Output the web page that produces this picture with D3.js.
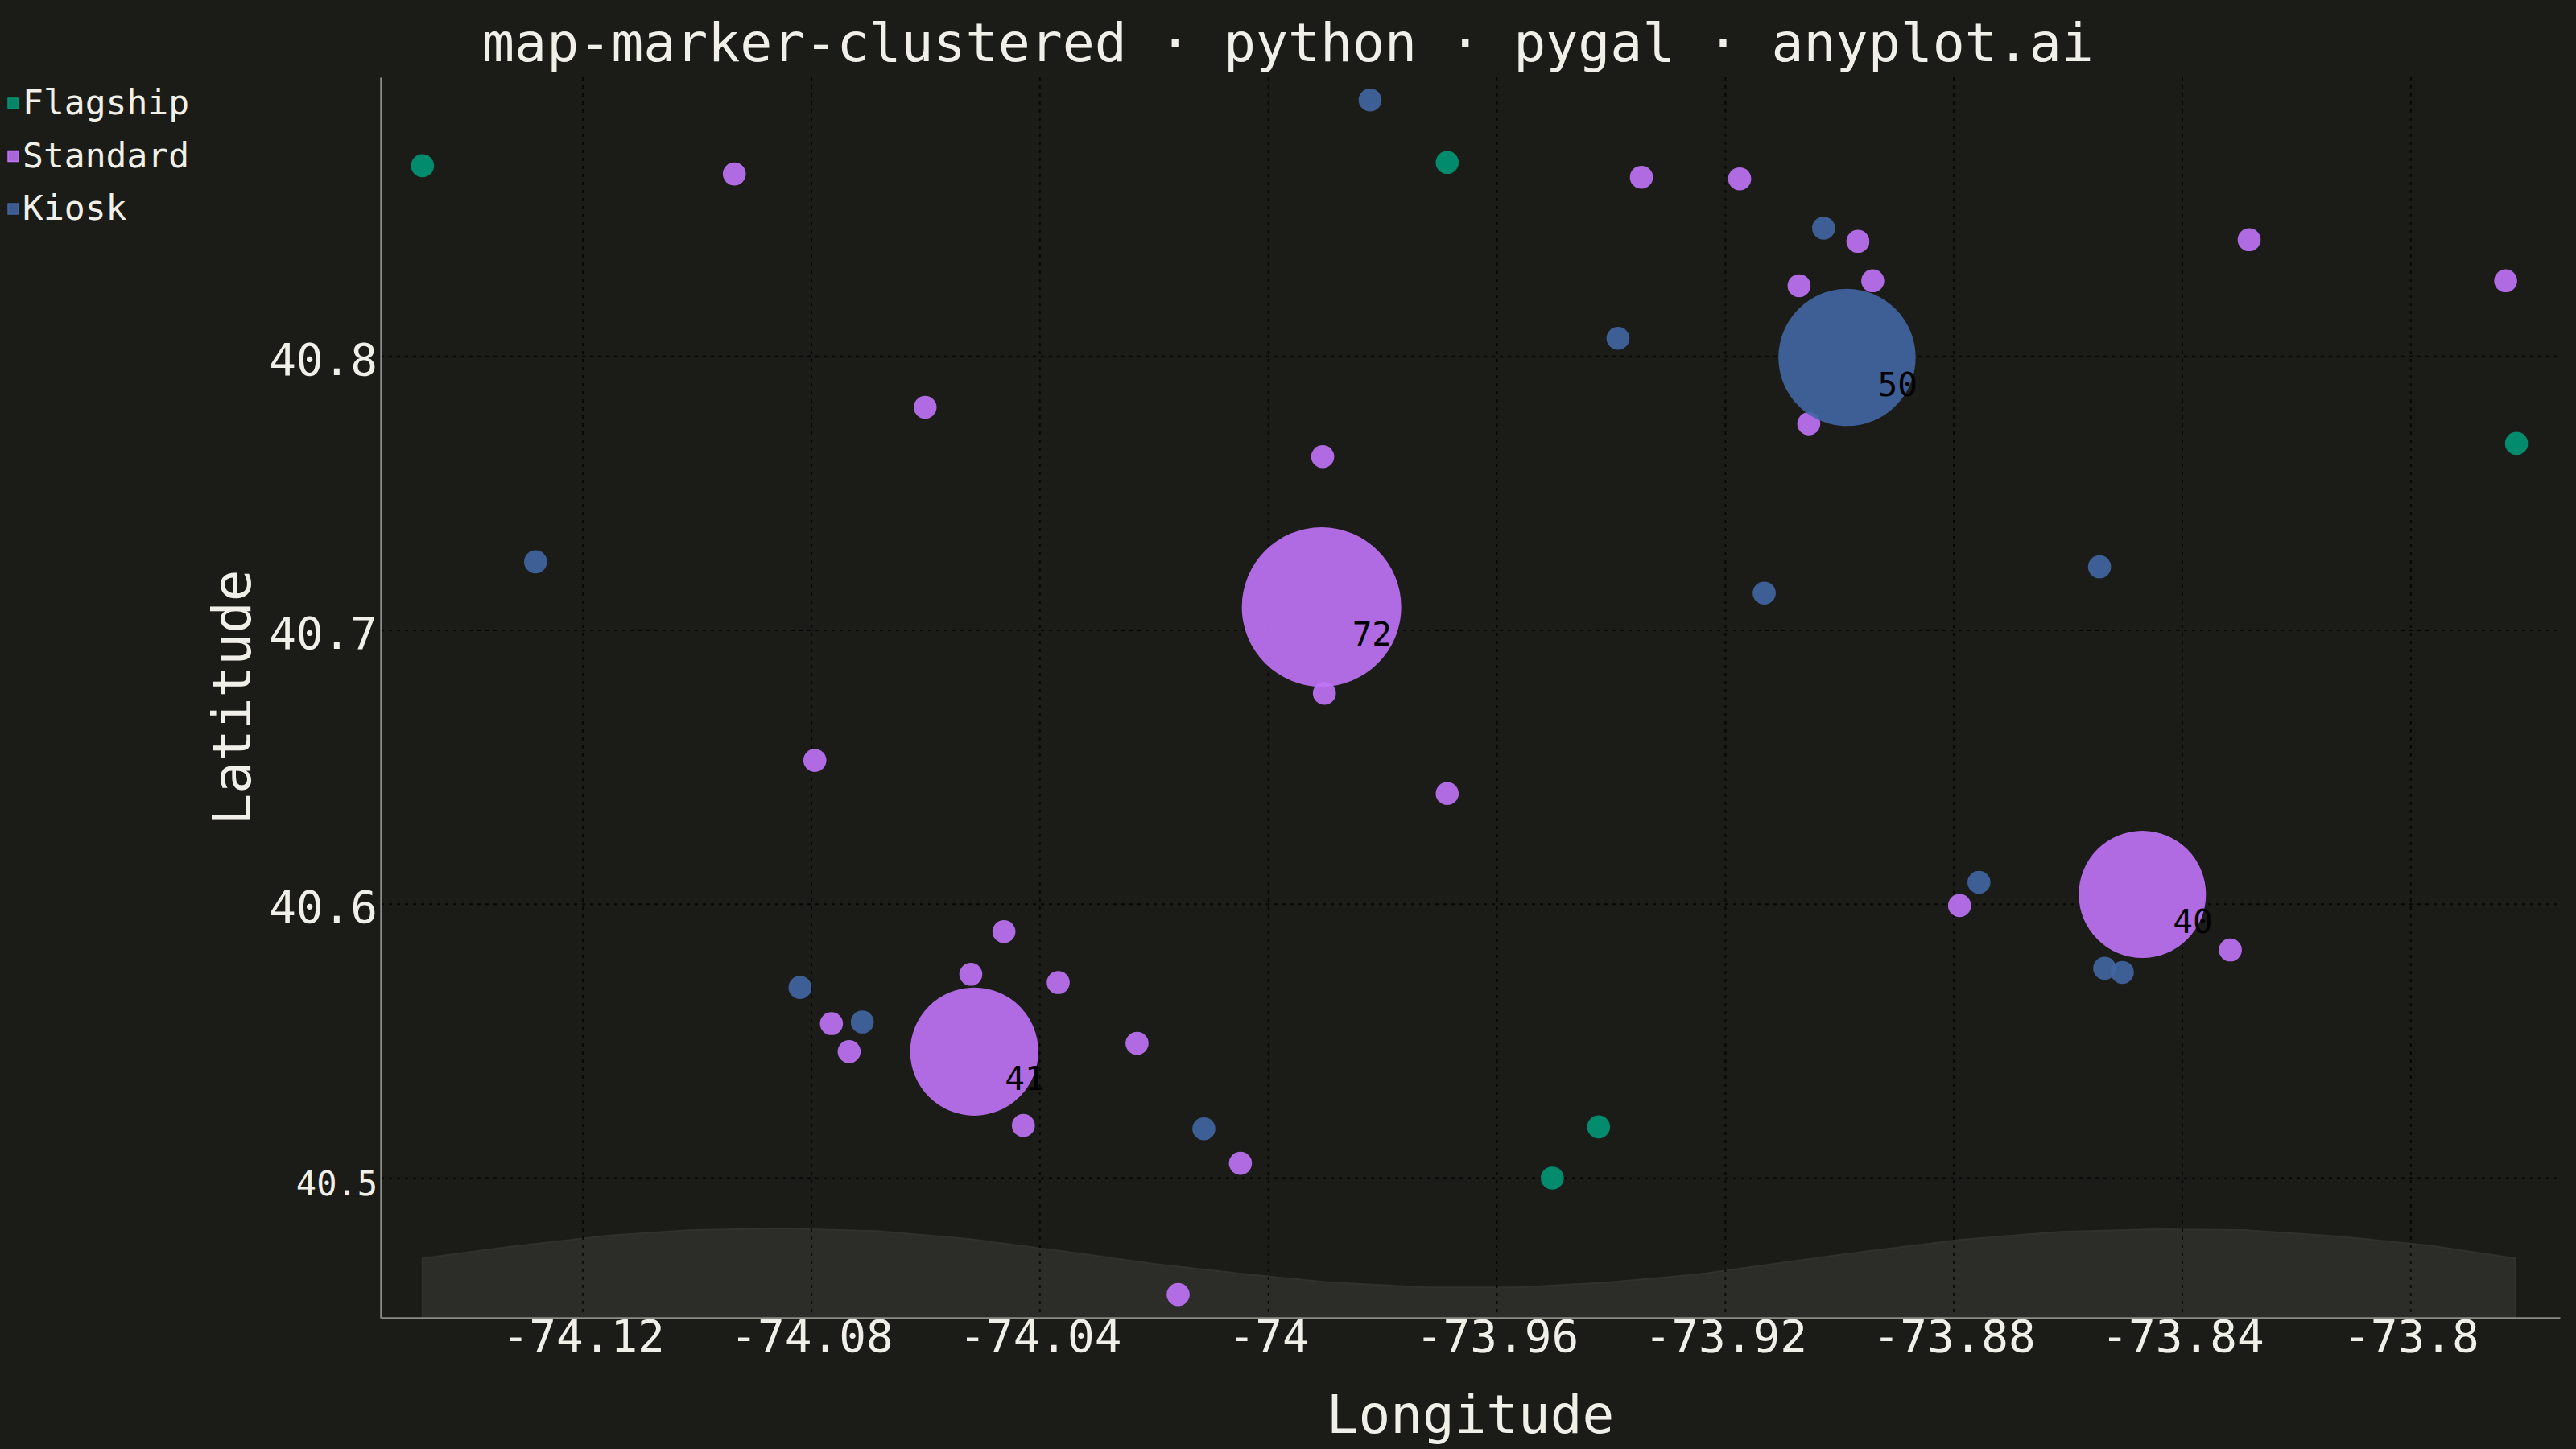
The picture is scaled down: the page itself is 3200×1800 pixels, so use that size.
<!DOCTYPE html>
<html>
<head>
<meta charset="utf-8">
<title>map-marker-clustered</title>
<script src="https://d3js.org/d3.v7.min.js"></script>
<style>
  html, body { margin: 0; padding: 0; background: #1b1b17; }
  svg { display: block; }
  text { font-family: "DejaVu Sans Mono", monospace; fill: #f0efe8; }
</style>
</head>
<body>
<div id="chart"></div>
<script>
// ---- data (longitude, latitude) ----
const seriesNames = ["Flagship", "Standard", "Kiosk"];

const flagship = [
  [-74.1481, 40.8696], [-73.9687, 40.8708], [-73.9422, 40.5187],
  [-73.9503, 40.5000], [-73.7815, 40.7682]
];

const standard = [
  [-74.0935, 40.8666], [-74.0601, 40.7814], [-73.9347, 40.8654],
  [-73.9175, 40.8648], [-73.8968, 40.8420], [-73.9071, 40.8258],
  [-73.8942, 40.8276], [-73.9054, 40.7754], [-73.9905, 40.7634],
  [-73.9902, 40.6770], [-73.9687, 40.6404], [-74.0794, 40.6525],
  [-74.0463, 40.5900], [-74.0521, 40.5744], [-74.0368, 40.5714],
  [-74.0765, 40.5564], [-74.0734, 40.5462], [-74.0230, 40.5492],
  [-74.0429, 40.5192], [-74.0049, 40.5054], [-74.0158, 40.4575],
  [-73.8790, 40.5995], [-73.8316, 40.5833], [-73.8283, 40.8426],
  [-73.7834, 40.8276]
];

const kiosk = [
  [-73.9822, 40.8936], [-74.1283, 40.7250], [-73.9388, 40.8066],
  [-73.9028, 40.8468], [-73.9132, 40.7136], [-73.8545, 40.7232],
  [-73.8756, 40.6080], [-73.8536, 40.5766], [-73.8505, 40.5751],
  [-74.0820, 40.5696], [-74.0711, 40.5570], [-74.0113, 40.5180]
];

// clustered markers: series, lon, lat, count
const clusterSeries = ["Standard", "Standard", "Standard", "Kiosk"];
const clusterLon    = [-73.9907, -74.0515, -73.8470, -73.8987];
const clusterLat    = [40.7085, 40.5462, 40.6036, 40.7996];
const clusterCount  = [72, 41, 40, 50];

// land silhouette along the bottom edge
const coastline = [
  [-74.1481, 40.4707], [-74.1333, 40.4748], [-74.1161, 40.4789],
  [-74.1010, 40.4810], [-74.0848, 40.4816], [-74.0686, 40.4807],
  [-74.0525, 40.4778], [-74.0363, 40.4734], [-74.0201, 40.4687],
  [-74.0039, 40.4649], [-73.9893, 40.4619], [-73.9722, 40.4601],
  [-73.9562, 40.4601], [-73.9404, 40.4619], [-73.9247, 40.4649],
  [-73.9074, 40.4699], [-73.8959, 40.4731], [-73.8786, 40.4775],
  [-73.8614, 40.4804], [-73.8448, 40.4813], [-73.8290, 40.4810],
  [-73.8125, 40.4787], [-73.7968, 40.4754], [-73.7817, 40.4707]
];

const xTicks = [-74.12, -74.08, -74.04, -74, -73.96, -73.92, -73.88, -73.84, -73.8];
const yMajorTicks = [40.6, 40.7, 40.8];
const yMinorTicks = [40.5];

// ---- layout ----
const W = 3200, H = 1800;
const colors = { Flagship: "#009875", Standard: "#c174fa", Kiosk: "#4366a4" };

const x = d3.scaleLinear().domain([-74.1554, -73.7739]).range([473, 3180]);
const y = d3.scaleLinear().domain([40.449, 40.9019]).range([1637, 96]);
const r = d3.scaleLinear().domain([40, 72]).range([79, 99]);

const svg = d3.select("#chart").append("svg")
  .attr("width", W).attr("height", H);

svg.append("rect").attr("width", W).attr("height", H).attr("fill", "#1b1b17");

// coastline band
const baseLat = y.domain()[0];
svg.append("path")
  .datum(coastline)
  .attr("fill", "#2c2c28")
  .attr("stroke", "#31312d")
  .attr("stroke-width", 2)
  .attr("d", d3.area()
    .x(d => x(d[0]))
    .y0(y(baseLat))
    .y1(d => y(d[1])));

// grid
const grid = svg.append("g")
  .attr("stroke", "#000")
  .attr("stroke-opacity", 0.75)
  .attr("stroke-width", 2)
  .attr("stroke-dasharray", "4,6");
grid.selectAll(".gx").data(xTicks).join("line")
  .attr("x1", d => x(d)).attr("x2", d => x(d))
  .attr("y1", y.range()[1]).attr("y2", y.range()[0]);
grid.selectAll(".gy").data(yMinorTicks.concat(yMajorTicks)).join("line")
  .attr("x1", x.range()[0]).attr("x2", x.range()[1])
  .attr("y1", d => y(d)).attr("y2", d => y(d));

// axes
const xAxis = svg.append("g")
  .attr("transform", `translate(0,${y.range()[0]})`)
  .call(d3.axisBottom(x).tickValues(xTicks).tickSize(0).tickPadding(2)
    .tickFormat(d => String(d)));
xAxis.selectAll("text")
  .attr("font-size", 56)
  .attr("font-family", "DejaVu Sans Mono")
  .attr("fill", "#f0efe8");

const yAxis = svg.append("g")
  .attr("transform", `translate(${x.range()[0]},0)`)
  .call(d3.axisLeft(y).tickValues(yMinorTicks.concat(yMajorTicks)).tickSize(0).tickPadding(4)
    .tickFormat(d => String(d)));
yAxis.selectAll("text")
  .attr("font-family", "DejaVu Sans Mono")
  .attr("fill", "#f0efe8")
  .attr("font-size", d => yMinorTicks.includes(d) ? 42 : 56)
  .attr("dy", d => yMinorTicks.includes(d) ? "0.5em" : "0.4em");

[xAxis, yAxis].forEach(a => a.select(".domain")
  .attr("stroke", "#8c8c87").attr("stroke-width", 2.5));

// markers
const seriesData = { Flagship: flagship, Standard: standard, Kiosk: kiosk };
const clusters = clusterSeries.map((s, i) => ({
  series: s, lon: clusterLon[i], lat: clusterLat[i], count: clusterCount[i]
}));

seriesNames.forEach(name => {
  const g = svg.append("g").attr("fill", colors[name]).attr("fill-opacity", 0.9);
  g.selectAll("circle.pt").data(seriesData[name]).join("circle")
    .attr("class", "pt")
    .attr("cx", d => x(d[0]))
    .attr("cy", d => y(d[1]))
    .attr("r", 14.3);
  const cl = clusters.filter(c => c.series === name);
  g.selectAll("circle.cl").data(cl).join("circle")
    .attr("class", "cl")
    .attr("cx", d => x(d.lon))
    .attr("cy", d => y(d.lat))
    .attr("r", d => r(d.count));
  svg.append("g").selectAll("text").data(cl).join("text")
    .attr("x", d => x(d.lon) + 38)
    .attr("y", d => y(d.lat) + 48)
    .attr("font-size", 41)
    .style("fill", "#000")
    .text(d => d.count);
});

// title
svg.append("text")
  .attr("x", W / 2).attr("y", 76)
  .attr("text-anchor", "middle")
  .attr("font-size", 66.5)
  .text("map-marker-clustered · python · pygal · anyplot.ai");

// axis titles
svg.append("text")
  .attr("x", (x.range()[0] + x.range()[1]) / 2).attr("y", 1780)
  .attr("text-anchor", "middle")
  .attr("font-size", 66)
  .text("Longitude");
svg.append("text")
  .attr("transform", `translate(311,${(y.range()[0] + y.range()[1]) / 2}) rotate(-90)`)
  .attr("text-anchor", "middle")
  .attr("font-size", 66)
  .text("Latitude");

// legend
const legend = svg.append("g").selectAll("g").data(seriesNames).join("g")
  .attr("transform", (d, i) => `translate(10,${142 + i * 65.5})`);
legend.append("rect")
  .attr("x", 0).attr("y", -20).attr("width", 13).attr("height", 13)
  .attr("fill", d => colors[d]).attr("fill-opacity", 0.85)
  .attr("stroke", d => colors[d]).attr("stroke-width", 1.5);
legend.append("text")
  .attr("x", 18).attr("y", 0)
  .attr("font-size", 43)
  .text(d => d);
</script>
</body>
</html>
